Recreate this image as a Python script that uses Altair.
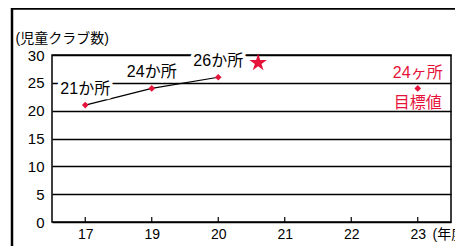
import altair as alt
import pandas as pd

# ---- data ----
years = ["17", "19", "20", "21", "22", "23"]
actual_idx = [0, 1, 2]
actual_vals = [21, 24, 26]
actual_labels = ["21か所", "24か所", "26か所"]
target_idx = [5]
target_vals = [24]
target_top = ["24ヶ所"]
target_bottom = ["目標値"]
star_idx = [2.6]
star_vals = [28.6]
y_ticks = [0, 5, 10, 15, 20, 25, 30]

actual = pd.DataFrame({"i": actual_idx, "v": actual_vals, "label": actual_labels})
target = pd.DataFrame({"i": target_idx, "v": target_vals, "top": target_top, "bottom": target_bottom})
star = pd.DataFrame({"i": star_idx, "v": star_vals})
ticks = pd.DataFrame({"i": list(range(len(years)))})
one = pd.DataFrame({"a": [0]})

W, H = 399, 167
RED = "#e5133a"
FONT = "Liberation Sans, Noto Sans CJK JP"
STAR = ("M0,-1L0.2233,-0.3074L0.951,-0.309L0.3614,0.1174L0.588,0.809L0,0.38"
        "L-0.588,0.809L-0.3614,0.1174L-0.951,-0.309L-0.2233,-0.3074Z")

label_expr = "[" + ",".join(f"'{y}'" for y in years) + "][datum.value]"

xs = alt.Scale(domain=[-0.5, len(years) - 0.5], nice=False, zero=False)
ys = alt.Scale(domain=[0, 30], nice=False, zero=True)

x = alt.X("i:Q", scale=xs,
          axis=alt.Axis(values=list(range(len(years))), labelExpr=label_expr,
                        ticks=False, domain=False, grid=False,
                        labelFontSize=14, labelPadding=5, labelColor="black",
                        labelFont=FONT,
                        title="(年度)", titleX=380, titleY=12,
                        titleAlign="left", titleBaseline="middle",
                        titleFontSize=14, titleFontWeight="normal",
                        titleFont=FONT, titleColor="black"))
y = alt.Y("v:Q", scale=ys,
          axis=alt.Axis(values=y_ticks, ticks=False, domain=False, grid=True,
                        gridColor="black", gridWidth=1.5, gridOpacity=1,
                        labelFontSize=15, labelPadding=8, labelColor="black",
                        labelFont=FONT,
                        title="(児童クラブ数)", titleAngle=0, titleX=-37, titleY=-17,
                        titleAlign="left", titleBaseline="middle",
                        titleFontSize=14, titleFontWeight="normal",
                        titleFont=FONT, titleColor="black"))

line = alt.Chart(actual).mark_line(color="black", strokeWidth=1.2).encode(x=x, y=y)

tick_rules = alt.Chart(ticks).mark_rule(color="black", strokeWidth=1.2).encode(
    x=alt.X("i:Q", scale=xs), y=alt.value(H), y2=alt.value(H - 5))

pts = alt.Chart(actual).mark_point(shape="diamond", filled=True, color=RED,
                                   size=45, opacity=1).encode(x=x, y=y)

halo = alt.Chart(actual).mark_text(dy=-16, fontSize=16, font=FONT, color="white",
                                   stroke="white", strokeWidth=7,
                                   strokeJoin="round").encode(x=x, y=y, text="label:N")
labels = alt.Chart(actual).mark_text(dy=-16, fontSize=16, font=FONT,
                                     color="black").encode(x=x, y=y, text="label:N")

star_mark = alt.Chart(star).mark_point(shape=STAR, filled=True, color=RED,
                                       size=340, opacity=1).encode(x=x, y=y)

tgt = alt.Chart(target).mark_point(shape="diamond", filled=True, color=RED,
                                   size=45, opacity=1).encode(x=x, y=y)
tgt_top = alt.Chart(target).mark_text(dy=-15, fontSize=16, font=FONT,
                                      color=RED).encode(x=x, y=y, text="top:N")
tgt_bot = alt.Chart(target).mark_text(dy=15, fontSize=16, font=FONT,
                                      color=RED).encode(x=x, y=y, text="bottom:N")

frame_left = alt.Chart(one).mark_rule(color="black", strokeWidth=2.5).encode(
    x=alt.value(-40), y=alt.value(-47), y2=alt.value(H + 40))
frame_top = alt.Chart(one).mark_rule(color="black", strokeWidth=2.5).encode(
    x=alt.value(-41), x2=alt.value(W + 20), y=alt.value(-46.5))

chart = alt.layer(
    line, tick_rules, pts, halo, labels, star_mark, tgt, tgt_top, tgt_bot,
    frame_left, frame_top
).properties(
    width=W, height=H,
    autosize=alt.AutoSizeParams(type="none"),
    padding={"left": 44, "top": 47, "right": 4, "bottom": 24},
    background="white",
).configure_view(
    stroke="black", strokeWidth=1.5
)

chart.save("out.html", embed_options={"renderer": "svg", "actions": False})
